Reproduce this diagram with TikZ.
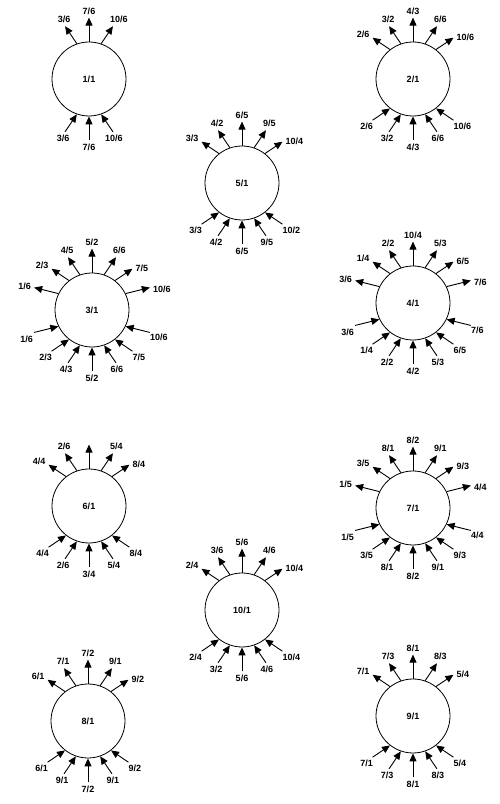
\documentclass[tikz,border=0pt]{standalone}
\usepackage{fontspec}
\setmainfont{Liberation Sans}
\usetikzlibrary{arrows.meta}
\tikzset{
  circ/.style={draw, circle, line width=0.8pt, minimum size=74pt, inner sep=0pt, font=\fontsize{9}{10}\selectfont\bfseries},
  arr/.style={line width=0.9pt, -{Triangle[length=8pt,width=7pt]}},
  lbl/.style={inner sep=0pt, font=\fontsize{9}{10}\selectfont\bfseries},
  lt0/.style={anchor=south, xshift=0pt, yshift=3pt},
  lt-1/.style={anchor=south, xshift=-1pt, yshift=3pt},
  lt1/.style={anchor=south west, xshift=-3pt, yshift=3pt},
  lt-2/.style={anchor=east, xshift=-3pt, yshift=3pt},
  lt2/.style={anchor=west, xshift=3pt, yshift=0pt},
  lt-3/.style={anchor=east, xshift=-3pt, yshift=1pt},
  lt3/.style={anchor=west, xshift=3pt, yshift=-2pt},
  lb0/.style={anchor=north, xshift=0pt, yshift=-3pt},
  lb-1/.style={anchor=north, xshift=-2pt, yshift=-3pt},
  lb1/.style={anchor=north, xshift=1pt, yshift=-3pt},
  lb-2/.style={anchor=north, xshift=-6pt, yshift=-3pt},
  lb2/.style={anchor=north west, xshift=0pt, yshift=-3pt},
  lb-3/.style={anchor=north east, xshift=-1pt, yshift=-3pt},
  lb3/.style={anchor=north west, xshift=0pt, yshift=-1pt},
}
\newcommand\slotvals[1]{%
  \pgfmathtruncatemacro\kk{abs(#1)}%
  \ifnum#1<0 \def\sg{-1}\else\def\sg{1}\fi
  \edef\aA{\ifcase\kk\space 0\or 19\or 38\or 64\fi}%
  \edef\dA{\ifcase\kk\space 0\or 34\or 56\or 76\fi}%
  \edef\lL{\ifcase\kk\space 24\or 21\or 21\or 25\fi}%
}
% outgoing arrow at the top of a circle
\newcommand\outarm[3]{%
  \slotvals{#2}%
  \pgfmathtruncatemacro\sa{90-\sg*\aA}%
  \pgfmathtruncatemacro\da{90-\sg*\dA}%
  \draw[arr] (#1.\sa) -- ++(\da:\lL pt) coordinate (#1t#2);
  \node[lbl, lt#2] (#1tl#2) at (#1t#2) {#3};
}
% incoming arrow at the bottom of a circle
\newcommand\inarm[3]{%
  \slotvals{#2}%
  \pgfmathtruncatemacro\sa{-90+\sg*\aA}%
  \pgfmathtruncatemacro\da{-90+\sg*\dA}%
  \path (#1.\sa) ++(\da:\lL pt) coordinate (#1b#2);
  \draw[arr] (#1b#2) -- (#1.\sa);
  \node[lbl, lb#2] (#1bl#2) at (#1b#2) {#3};
}
\begin{document}
\begin{tikzpicture}[x=1pt,y=1pt]
\useasboundingbox (0,0) rectangle (499,804);
\fill[white] (0,0) rectangle (499,804);

\node[circ] (n1) at (89,725) {1/1};
\node[circ] (n2) at (413,725) {2/1};
\node[circ] (n5) at (242,621) {5/1};
\node[circ] (n3) at (92,494) {3/1};
\node[circ] (n4) at (413,501) {4/1};
\node[circ] (n6) at (89,298) {6/1};
\node[circ] (n7) at (413,296) {7/1};
\node[circ] (n10) at (242,194) {10/1};
\node[circ] (n8) at (88,83) {8/1};
\node[circ] (n9) at (413,88) {9/1};

% node 1
\outarm{n1}{-1}{3/6}\outarm{n1}{0}{7/6}\outarm{n1}{1}{10/6}
\inarm{n1}{-1}{3/6}\inarm{n1}{0}{7/6}\inarm{n1}{1}{10/6}
% node 2
\outarm{n2}{-2}{2/6}\outarm{n2}{-1}{3/2}\outarm{n2}{0}{4/3}\outarm{n2}{1}{6/6}\outarm{n2}{2}{10/6}
\inarm{n2}{-2}{2/6}\inarm{n2}{-1}{3/2}\inarm{n2}{0}{4/3}\inarm{n2}{1}{6/6}\inarm{n2}{2}{10/6}
% node 5
\outarm{n5}{-2}{3/3}\outarm{n5}{-1}{4/2}\outarm{n5}{0}{6/5}\outarm{n5}{1}{9/5}\outarm{n5}{2}{10/4}
\inarm{n5}{-2}{3/3}\inarm{n5}{-1}{4/2}\inarm{n5}{0}{6/5}\inarm{n5}{1}{9/5}\inarm{n5}{2}{10/2}
% node 3
\outarm{n3}{-3}{1/6}\outarm{n3}{-2}{2/3}\outarm{n3}{-1}{4/5}\outarm{n3}{0}{5/2}\outarm{n3}{1}{6/6}\outarm{n3}{2}{7/5}\outarm{n3}{3}{10/6}
\inarm{n3}{-3}{1/6}\inarm{n3}{-2}{2/3}\inarm{n3}{-1}{4/3}\inarm{n3}{0}{5/2}\inarm{n3}{1}{6/6}\inarm{n3}{2}{7/5}\inarm{n3}{3}{10/6}
% node 4
\outarm{n4}{-3}{3/6}\outarm{n4}{-2}{1/4}\outarm{n4}{-1}{2/2}\outarm{n4}{0}{10/4}\outarm{n4}{1}{5/3}\outarm{n4}{2}{6/5}\outarm{n4}{3}{7/6}
\inarm{n4}{-3}{3/6}\inarm{n4}{-2}{1/4}\inarm{n4}{-1}{2/2}\inarm{n4}{0}{4/2}\inarm{n4}{1}{5/3}\inarm{n4}{2}{6/5}\inarm{n4}{3}{7/6}
% node 6
\outarm{n6}{-2}{4/4}\outarm{n6}{-1}{2/6}\outarm{n6}{1}{5/4}\outarm{n6}{2}{8/4}
\draw[arr] (n6.90) -- ++(90:24pt) coordinate (n6t0);
\inarm{n6}{-2}{4/4}\inarm{n6}{-1}{2/6}\inarm{n6}{0}{3/4}\inarm{n6}{1}{5/4}\inarm{n6}{2}{8/4}
% node 7
\outarm{n7}{-3}{1/5}\outarm{n7}{-2}{3/5}\outarm{n7}{-1}{8/1}\outarm{n7}{0}{8/2}\outarm{n7}{1}{9/1}\outarm{n7}{2}{9/3}\outarm{n7}{3}{4/4}
\inarm{n7}{-3}{1/5}\inarm{n7}{-2}{3/5}\inarm{n7}{-1}{8/1}\inarm{n7}{0}{8/2}\inarm{n7}{1}{9/1}\inarm{n7}{2}{9/3}\inarm{n7}{3}{4/4}
% node 10
\outarm{n10}{-2}{2/4}\outarm{n10}{-1}{3/6}\outarm{n10}{0}{5/6}\outarm{n10}{1}{4/6}\outarm{n10}{2}{10/4}
\inarm{n10}{-2}{2/4}\inarm{n10}{-1}{3/2}\inarm{n10}{0}{5/6}\inarm{n10}{1}{4/6}\inarm{n10}{2}{10/4}
% node 8
\outarm{n8}{-2}{6/1}\outarm{n8}{-1}{7/1}\outarm{n8}{0}{7/2}\outarm{n8}{1}{9/1}\outarm{n8}{2}{9/2}
\inarm{n8}{-2}{6/1}\inarm{n8}{-1}{9/1}\inarm{n8}{0}{7/2}\inarm{n8}{1}{9/1}\inarm{n8}{2}{9/2}
% node 9
\outarm{n9}{-2}{7/1}\outarm{n9}{-1}{7/3}\outarm{n9}{0}{8/1}\outarm{n9}{1}{8/3}\outarm{n9}{2}{5/4}
\inarm{n9}{-2}{7/1}\inarm{n9}{-1}{7/3}\inarm{n9}{0}{8/1}\inarm{n9}{1}{8/3}\inarm{n9}{2}{5/4}
\end{tikzpicture}
\end{document}
